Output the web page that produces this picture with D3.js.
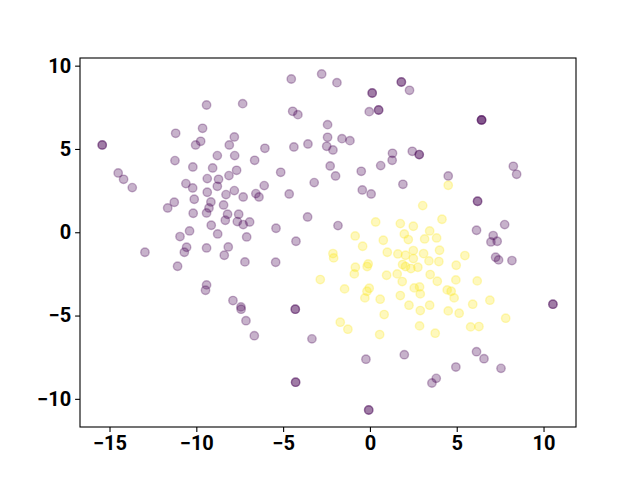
<!DOCTYPE html>
<html>
<head>
<meta charset="utf-8">
<script src="https://cdn.jsdelivr.net/npm/d3@7"></script>
<style>
  body { margin: 0; background: #fff; }
  .tick text { font-family: Roboto, "Liberation Sans", sans-serif; font-weight: bold; font-size: 20px; fill: #000; }
</style>
</head>
<body>
<script>
// class 0 (purple) points; repeated pairs are stacked points
const purpleX = [-15.42, -15.42, -9.41, -7.33, -11.19, -9.64, -10.04, -9.75, -7.81, -8.10, -8.79, -7.79, -11.23, -10.20, -9.06, -7.68, -8.12,
  -14.50, -14.19, -13.69, -10.60, -10.21, -9.37, -8.72, -8.79, -9.37, -8.29, -7.81, -7.30, -11.27, -11.65, -10.12, -9.16, -9.27, -9.41,
  -8.43, -10.18, -8.20, -7.56, -8.33, -7.64, -7.30, -6.93, -9.14, -10.39, -10.94, -8.77, -7.10, -12.96, -10.56, -10.69, -9.41, -8.16,
  -8.39, -7.20, -11.08, -9.41, -9.47, -7.89, -7.43, -7.42, -7.14, -6.66, -4.53, -2.78, -1.90, 1.81, 1.81, 2.28, 0.13, 0.13, -4.45, -4.15,
  -0.04, 0.50, 0.50, -2.44, -2.44, -1.61, -1.15, -2.49, -2.13, -3.57, -4.38, -6.05, -6.64, -5.14, -2.29, -1.98, -0.50, 0.62, 1.30, 1.28,
  2.44, -3.21, -6.09, -6.57, -6.39, -4.65, -0.44, 0.07, 1.90, -3.59, -5.41, -1.84, -4.26, -5.43, -4.30, -4.30, -3.34, -0.23, 1.98,
  -4.28, -4.28, -0.07, -0.07, 6.43, 6.43, 6.43, 2.84, 2.84, 8.26, 8.45, 4.51, 6.20, 6.20, 7.76, 6.14, 7.10, 6.97, 7.33, 7.24, 7.41,
  8.18, 10.54, 10.54, 6.14, 6.57, 4.95, 7.55, 3.82, 3.57];
const purpleY = [5.24, 5.24, 7.64, 7.72, 5.94, 6.24, 5.24, 5.46, 5.72, 5.24, 4.60, 4.60, 4.30, 3.92, 3.86, 3.72, 3.40,
  3.56, 3.18, 2.68, 2.92, 2.66, 3.22, 3.18, 2.76, 2.40, 2.26, 2.50, 2.12, 1.80, 1.46, 1.98, 1.82, 1.46, 1.16,
  1.64, 1.14, 1.08, 1.08, 0.72, 0.64, 0.46, 0.62, 0.42, 0.08, -0.26, -0.10, -0.28, -1.20, -0.90, -1.20, -0.94, -0.88,
  -1.38, -1.78, -2.04, -3.16, -3.48, -4.10, -4.48, -4.62, -5.31, -6.21, 9.20, 9.50, 8.98, 9.02, 9.02, 8.52, 8.36, 8.36, 7.26, 7.06,
  7.24, 7.34, 7.34, 6.46, 5.70, 5.62, 5.50, 5.16, 4.94, 5.30, 5.12, 5.04, 4.32, 3.60, 3.98, 3.38, 3.66, 4.00, 4.74, 4.32,
  4.86, 2.98, 2.80, 2.32, 2.12, 2.30, 2.54, 2.30, 2.88, 0.92, 0.24, 0.40, -0.54, -1.80, -4.62, -4.62, -6.40, -7.62, -7.35,
  -9.00, -9.00, -10.67, -10.67, 6.74, 6.74, 6.74, 4.66, 4.66, 3.96, 3.48, 3.38, 1.86, 1.86, 0.46, 0.12, -0.20, -0.58, -0.54, -1.50, -1.66,
  -1.70, -4.32, -4.32, -7.17, -7.59, -8.09, -8.17, -8.77, -9.05];

// class 1 (yellow) points
const yellowX = [0.33, 1.75, 1.98, 2.50, -0.85, 0.77, 2.21, -0.42, -2.13, -2.09, 1.00, 1.61, 2.05, 2.50, 2.50, -0.84, -0.10, -0.16,
  -0.90, 1.88, 2.05, 2.36, -2.86, 0.96, 1.57, 1.86, -1.46, -0.04, -0.17, -0.29, 0.59, 1.75, 2.55, 2.25, 0.82, -1.71, -1.27, 0.56,
  4.51, 3.04, 4.15, 3.44, 3.15, 3.84, 3.09, 4.01, 5.47, 3.40, 3.97, 4.97, 2.76, 3.47, 3.88, 4.95, 6.18, 2.86, 2.90, 4.45, 4.68, 4.85,
  3.44, 2.90, 4.51, 5.14, 5.92, 6.91, 7.82, 2.86, 3.76, 5.80, 6.28];
const yellowY = [0.62, 0.52, -0.10, 0.36, -0.22, -0.48, -0.44, -0.84, -1.28, -1.54, -1.20, -1.30, -1.38, -1.10, -1.58, -2.10, -1.90, -2.06,
  -2.50, -1.94, -2.06, -2.18, -2.84, -2.58, -2.50, -2.96, -3.40, -3.36, -3.54, -3.94, -4.02, -3.80, -3.34, -4.38, -4.94, -5.40, -5.82, -6.14,
  2.82, 1.60, 0.78, 0.08, -0.40, -0.34, -1.28, -1.08, -1.40, -1.72, -1.76, -1.98, -2.10, -2.54, -2.94, -2.86, -2.92, -3.28, -3.70, -3.46, -3.54, -3.94,
  -4.38, -4.70, -4.72, -4.86, -4.32, -4.08, -5.16, -5.62, -6.06, -5.68, -5.66];

const xTicks = [-15, -10, -5, 0, 5, 10];
const yTicks = [-10, -5, 0, 5, 10];

const W = 640, H = 480;
const plotLeft = 80, plotRight = 576, plotTop = 58, plotBottom = 427;

const svg = d3.select("body").append("svg")
  .attr("width", W)
  .attr("height", H);

const x = d3.scaleLinear().domain([-16.7, 11.87]).range([plotLeft, plotRight]);
const y = d3.scaleLinear().domain([-11.69, 10.46]).range([plotBottom, plotTop]);

const points = [];
purpleX.forEach((v, i) => points.push({ x: v, y: purpleY[i], c: "#440154" }));
yellowX.forEach((v, i) => points.push({ x: v, y: yellowY[i], c: "#fde725" }));

svg.append("g")
  .selectAll("circle")
  .data(points)
  .enter()
  .append("circle")
  .attr("cx", d => x(d.x))
  .attr("cy", d => y(d.y))
  .attr("r", 4.2)
  .attr("fill", d => d.c)
  .attr("fill-opacity", 0.3)
  .attr("stroke", d => d.c)
  .attr("stroke-opacity", 0.3)
  .attr("stroke-width", 1.4);

// frame
svg.append("rect")
  .attr("x", plotLeft).attr("y", plotTop)
  .attr("width", plotRight - plotLeft).attr("height", plotBottom - plotTop)
  .attr("fill", "none")
  .attr("stroke", "#000")
  .attr("stroke-width", 1.1);

const fmt = d => d < 0 ? "\u2212" + Math.abs(d) : String(d);

const xAxis = svg.append("g")
  .attr("transform", `translate(0,${plotBottom})`)
  .call(d3.axisBottom(x).tickValues(xTicks).tickFormat(fmt).tickSize(4.9).tickPadding(4));
const yAxis = svg.append("g")
  .attr("transform", `translate(${plotLeft},0)`)
  .call(d3.axisLeft(y).tickValues(yTicks).tickFormat(fmt).tickSize(4.9).tickPadding(4));

[xAxis, yAxis].forEach(g => {
  g.select(".domain").remove();
  g.selectAll(".tick line").attr("stroke", "#000").attr("stroke-width", 1.1);
});
</script>
</body>
</html>
